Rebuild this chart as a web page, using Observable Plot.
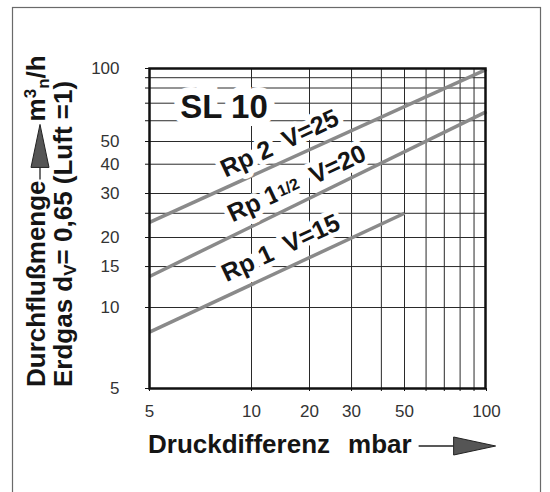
<!DOCTYPE html>
<html><head><meta charset="utf-8">
<script src="https://cdn.jsdelivr.net/npm/d3@7"></script>
<script src="https://cdn.jsdelivr.net/npm/@observablehq/plot@0.6"></script>
<style>
html,body{margin:0;padding:0;background:#fff;overflow:hidden;}
#chart svg{display:block;}
</style></head><body><div id="chart"></div>
<script>
// ---- data ----
const seriesLabels = ["Rp 2\u00a0 V=25", "Rp 11/2\u00a0 V=20", "Rp 1\u00a0 V=15"];
const dpStart   = [5, 5, 5];          // mbar
const dpEnd     = [100, 100, 50];     // mbar
const flowStart = [23, 13.6, 8.1];    // m3n/h
const flowEnd   = [99, 65, 25];       // m3n/h
const labelDp   = [14, 17.2, 14.2];
const labelFlow = [49, 33, 18];
const modelName = ["SL 10"];
const modelDp   = [8.3];
const modelFlow = [67.6];

const xTickLabels = [5, 10, 20, 30, 50, 100];
const xGrid = [10, 20, 30, 40, 50, 60, 70, 80, 90];
const yTickLabels = [5, 10, 15, 20, 30, 40, 50, 100];
const yGrid = [10, 15, 20, 25, 30, 40, 50, 60, 70, 80, 90];

// scale breakpoints of the (slightly irregular) printed log grid
const xBreaks = [5, 10, 20, 50, 100];
const xRange  = [149, 251, 309, 404, 486];
const yBreaks = [5, 10, 20, 30, 50, 80, 100];
const yRange  = [388, 307, 237, 193, 141, 87.5, 68];

const series = seriesLabels.map((s, i) => ({label: s, x1: dpStart[i], x2: dpEnd[i], y1: flowStart[i], y2: flowEnd[i], lx: labelDp[i], ly: labelFlow[i]}));
const model = modelName.map((s, i) => ({label: s, x: modelDp[i], y: modelFlow[i]}));

const FONT = "'Liberation Sans', Arial, Helvetica, sans-serif";
const xAll = [5, ...xGrid, 100];
const yAll = [5, ...yGrid, 100];

const plot = Plot.plot({
  width: 550, height: 492,
  marginLeft: 149, marginRight: 65, marginTop: 68, marginBottom: 104,
  style: {fontFamily: FONT, background: "#fff", overflow: "visible"},
  x: {type: "log", domain: xBreaks, range: xRange},
  y: {type: "log", domain: yBreaks, range: yRange},
  marks: [
    Plot.gridX(xGrid, {stroke: "#2a2a2a", strokeOpacity: 1, strokeWidth: 1}),
    Plot.gridY(yGrid, {stroke: "#2a2a2a", strokeOpacity: 1, strokeWidth: 1}),
    Plot.link(series, {x1: "x1", y1: "y1", x2: "x2", y2: "y2", stroke: "#8a8a8a", strokeWidth: 3.5}),
    Plot.text(series, {x: "lx", y: "ly", text: "label", rotate: -25, fontSize: 25, fontWeight: "bold",
      fill: "#151515", stroke: "white", strokeWidth: 10, strokeLinejoin: "round"}),
    Plot.text(model, {x: "x", y: "y", text: "label", fontSize: 33, fontWeight: "bold",
      fill: "#151515", stroke: "white", strokeWidth: 16, strokeLinejoin: "miter"}),
    Plot.axisX({ticks: xAll, tickFormat: d => xTickLabels.includes(d) ? String(d) : "", tickSize: 3,
      tickPadding: 13, fontSize: 17, fill: "#333", stroke: "#111", label: null}),
    Plot.axisY({ticks: yAll, tickFormat: d => yTickLabels.includes(d) ? String(d) : "", tickSize: 4,
      tickPadding: 26, fontSize: 17, fill: "#333", stroke: "#111", label: null}),
    Plot.frame({stroke: "#111", strokeWidth: 2.5})
  ]
});
document.getElementById("chart").appendChild(plot);

const svg = d3.select(plot);

// outer frame
svg.insert("rect", ":first-child").attr("x", 12.5).attr("y", 7.5).attr("width", 528).attr("height", 520)
  .attr("fill", "none").attr("stroke", "#6a6a6a").attr("stroke-width", 1.2);

// fraction in "Rp 1 1/2"
svg.selectAll("text").filter(function() { return this.textContent.includes("11/2"); }).each(function() {
  const t = d3.select(this);
  const rest = this.textContent.split("11/2")[1];
  t.text(null);
  t.append("tspan").text("Rp 1");
  t.append("tspan").attr("font-size", 16).attr("dy", -3).text("1/2");
  t.append("tspan").attr("dy", 3).text(rest);
});

// arrow helper (local coords: pointing along +x)
function arrow(g, x0, headStart, headLen, halfW, cy) {
  g.append("line").attr("x1", x0).attr("x2", headStart).attr("y1", cy).attr("y2", cy)
    .attr("stroke", "#222").attr("stroke-width", 1.3);
  g.append("path").attr("d", `M${headStart},${cy - halfW}L${headStart + headLen},${cy}L${headStart},${cy + halfW}Z`)
    .attr("fill", "#555").attr("stroke", "#222").attr("stroke-width", 1);
}

function titleGroup(transform) {
  return svg.append("g").attr("transform", transform).attr("text-anchor", "start")
    .attr("font-family", FONT).attr("font-weight", "bold").attr("font-size", 26).attr("fill", "#151515");
}

// y title (two rotated lines)
const gy = titleGroup("translate(45,387) rotate(-90)");
const ty1 = gy.append("text").text("Durchflußmenge");
const l1 = ty1.node().getComputedTextLength();
arrow(gy, l1 + 1, l1 + 13, 43, 9, -5);
const ty2 = gy.append("text").attr("x", l1 + 59);
ty2.append("tspan").text("m");
ty2.append("tspan").attr("font-size", 17).attr("dy", -9).text("3");
ty2.append("tspan").attr("font-size", 17).attr("dy", 13).text("n");
ty2.append("tspan").attr("dy", -4).text("/h");

const gy2 = titleGroup("translate(72,387) rotate(-90)");
const ty3 = gy2.append("text");
ty3.append("tspan").text("Erdgas d");
ty3.append("tspan").attr("font-size", 17).attr("dy", 4).text("V");
ty3.append("tspan").attr("dy", -4).text("= 0,65 (Luft =1)");

// x title
const gx = titleGroup(null);
const tx = gx.append("text").attr("x", 148).attr("y", 453);
tx.append("tspan").text("Druckdifferenz");
tx.append("tspan").attr("dx", 18).text("mbar");
const xEnd = 148 + tx.node().getComputedTextLength() + 18;
arrow(gx, xEnd + 7, xEnd + 42, 42, 9, 446);
</script>
</body></html>
